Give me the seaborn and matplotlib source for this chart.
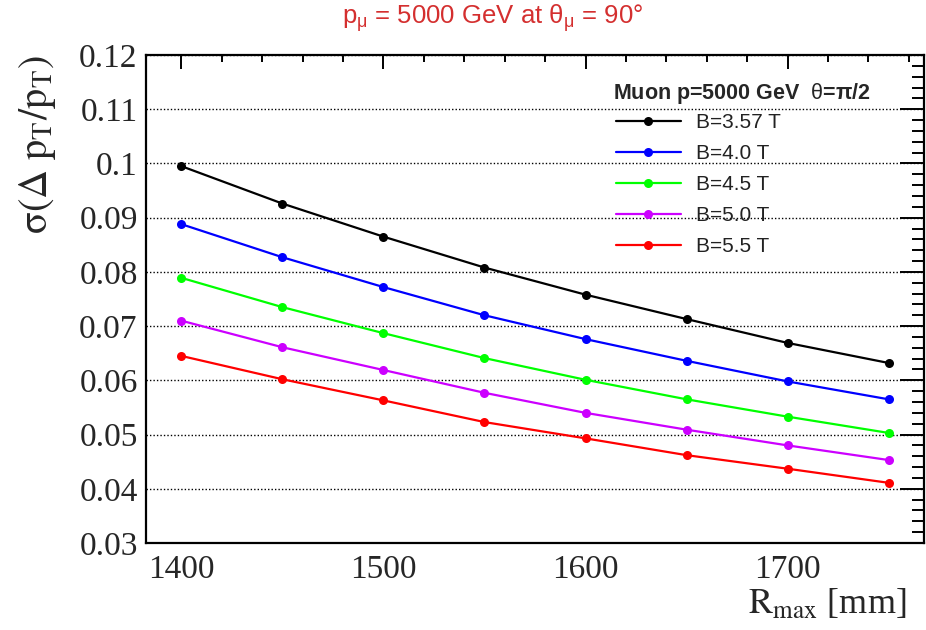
import matplotlib
matplotlib.use("Agg")
import matplotlib.pyplot as plt
import matplotlib.ticker as mticker
import seaborn as sns
import pandas as pd

# ---- data ----
r_max = [1400, 1450, 1500, 1550, 1600, 1650, 1700, 1750]
b_labels = ["B=3.57 T", "B=4.0 T", "B=4.5 T", "B=5.0 T", "B=5.5 T"]
sig_357 = [0.0995, 0.0926, 0.0865, 0.0808, 0.0758, 0.0713, 0.0669, 0.0632]
sig_40 = [0.0888, 0.0827, 0.0772, 0.0720, 0.0676, 0.0636, 0.0598, 0.0565]
sig_45 = [0.0789, 0.0735, 0.0687, 0.0641, 0.0601, 0.0565, 0.0533, 0.0503]
sig_50 = [0.0710, 0.0661, 0.0619, 0.0577, 0.0540, 0.0509, 0.0480, 0.0453]
sig_55 = [0.0645, 0.0602, 0.0563, 0.0523, 0.0493, 0.0462, 0.0437, 0.0411]
colors = ["#000000", "#0000ff", "#00ff00", "#cc00ff", "#ff0000"]
y_ticks = [0.03, 0.04, 0.05, 0.06, 0.07, 0.08, 0.09, 0.10, 0.11, 0.12]
x_ticks = [1400, 1500, 1600, 1700]

series = [sig_357, sig_40, sig_45, sig_50, sig_55]
df = pd.DataFrame({
    "R": [r for _ in series for r in r_max],
    "sigma": [v for s in series for v in s],
    "B": [lab for lab in b_labels for _ in r_max],
})

sns.set_theme(style="white")
plt.rcParams["font.family"] = ["Liberation Sans", "DejaVu Sans"]
plt.rcParams["mathtext.fontset"] = "custom"
plt.rcParams["mathtext.rm"] = "Liberation Sans"
plt.rcParams["mathtext.it"] = "Liberation Sans:italic"
plt.rcParams["mathtext.bf"] = "Liberation Sans:bold"

W, H = 926, 630
fig = plt.figure(figsize=(W / 100, H / 100), dpi=100)
ax = fig.add_axes([146 / W, 87 / H, 778 / W, 488 / H])

sns.lineplot(data=df, x="R", y="sigma", hue="B", hue_order=b_labels,
             palette=dict(zip(b_labels, colors)), marker="o", markersize=6.5,
             markeredgewidth=0, linewidth=1.6, ax=ax, legend=True)

ax.set_xlim(1382.5, 1767.5)
ax.set_ylim(0.03, 0.12)
ax.set_xticks(x_ticks)
ax.set_yticks(y_ticks)
ax.xaxis.set_minor_locator(mticker.MultipleLocator(20))
ax.yaxis.set_minor_locator(mticker.MultipleLocator(0.002))
ax.yaxis.set_major_formatter(mticker.FuncFormatter(lambda v, p: f"{v:g}"))
ax.set_xlabel("")
ax.set_ylabel("")

for lab in ax.get_xticklabels() + ax.get_yticklabels():
    lab.set_fontfamily("Liberation Serif")
    lab.set_fontsize(24)

ax.tick_params(axis="both", which="both", direction="in", top=True, right=True,
               color="black", width=1.4)
ax.tick_params(axis="y", which="major", length=17, pad=6)
ax.tick_params(axis="y", which="minor", length=8.5)
ax.tick_params(axis="x", which="major", length=10, pad=8)
ax.tick_params(axis="x", which="minor", length=5)
for sp in ax.spines.values():
    sp.set_color("black")
    sp.set_linewidth(1.6)

ax.yaxis.grid(True, which="major", color="black", linestyle=(0, (1, 1.5)), linewidth=1)
ax.xaxis.grid(False)
ax.set_axisbelow(True)

handles, labels = ax.get_legend_handles_labels()
leg = ax.legend(handles, labels,
                loc="upper left", bbox_to_anchor=(616 / W, 1 - 113 / H),
                bbox_transform=fig.transFigure, frameon=False,
                prop={"family": "Liberation Sans", "size": 15},
                handlelength=3.1, handletextpad=0.72, labelspacing=0.58,
                borderpad=0, borderaxespad=0)
for t in leg.get_texts():
    t.set_color("#222222")

fig.text(613 / W, 1 - 94 / H, r"Muon p=5000 GeV  $\mathrm{\theta}$=π/2",
         fontsize=15.5, fontweight="bold", ha="left", va="center",
         family="Liberation Sans")

fig.text(493 / W, 1 - 18 / H, r"$\mathrm{p_{\mu}}$ = 5000 GeV at $\mathrm{\theta_{\mu}}$ = 90°",
         color="#d42f2f", fontsize=18.5, ha="center", va="center",
         family="Liberation Sans")

fig.text(38 / W, 1 - 55 / H, r"$\mathrm{\sigma(\Delta\ p_{T}/p_{T})}$",
         rotation=90, ha="center", va="top", fontsize=29, math_fontfamily="stix")
fig.text(906 / W, 1 - 605 / H, r"$\mathrm{R_{max}}$ [mm]",
         ha="right", va="center", fontsize=26, family="Liberation Serif",
         math_fontfamily="stix")

fig.savefig("out.png", dpi=100)
